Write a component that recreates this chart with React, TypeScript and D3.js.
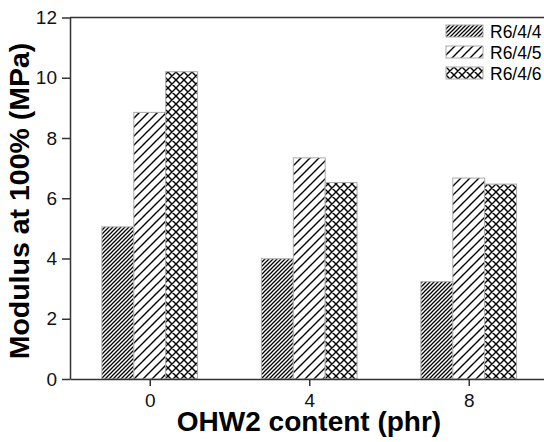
import React, { useEffect, useRef } from 'react';
import * as d3 from 'd3';

const groups = [0, 4, 8];
const seriesNames = ['R6/4/4', 'R6/4/5', 'R6/4/6'];
const r644 = [5.05, 3.99, 3.23];
const r645 = [8.85, 7.34, 6.67];
const r646 = [10.2, 6.52, 6.47];
const yTicks = [0, 2, 4, 6, 8, 10, 12];
const xTicks = [0, 4, 8];

const W = 544;
const H = 442;

const App = () => {
  const svgRef = useRef<SVGSVGElement>(null);

  useEffect(() => {
    const svg = d3.select(svgRef.current);
    svg.selectAll('*').remove();

    const left = 70, top = 17.5, bottom = 379;
    const x = d3.scaleLinear().domain([-2, 10]).range([left, left + 12 * 39.875]);
    const y = d3.scaleLinear().domain([0, 12]).range([bottom, top]);
    const barW = x(0.8) - x(0);
    const font = 'Arial, "Liberation Sans", sans-serif';
    const axisColor = '#333';

    // hatch patterns
    const defs = svg.append('defs');
    const dense = defs.append('pattern').attr('id', 'p1')
      .attr('patternUnits', 'userSpaceOnUse').attr('width', 4).attr('height', 4);
    dense.append('rect').attr('width', 4).attr('height', 4).attr('fill', 'white');
    dense.append('path').attr('d', 'M-1,1 L1,-1 M0,4 L4,0 M3,5 L5,3')
      .attr('stroke', 'black').attr('stroke-width', 1.3);

    const sparse = defs.append('pattern').attr('id', 'p2')
      .attr('patternUnits', 'userSpaceOnUse').attr('width', 9).attr('height', 9);
    sparse.append('rect').attr('width', 9).attr('height', 9).attr('fill', 'white');
    sparse.append('path').attr('d', 'M-1,1 L1,-1 M0,9 L9,0 M8,10 L10,8')
      .attr('stroke', 'black').attr('stroke-width', 1.4);

    const cross = defs.append('pattern').attr('id', 'p3')
      .attr('patternUnits', 'userSpaceOnUse').attr('width', 8).attr('height', 8);
    cross.append('rect').attr('width', 8).attr('height', 8).attr('fill', 'white');
    cross.append('path').attr('d', 'M-1,1 L1,-1 M0,8 L8,0 M7,9 L9,7 M-1,7 L1,9 M0,0 L8,8 M7,-1 L9,1')
      .attr('stroke', 'black').attr('stroke-width', 1.4);

    const fills = ['url(#p1)', 'url(#p2)', 'url(#p3)'];
    const series = [r644, r645, r646];

    // bars
    series.forEach((vals, si) => {
      svg.append('g').selectAll('rect')
        .data(vals)
        .enter()
        .append('rect')
        .attr('x', (d, i) => x(groups[i]) + (si - 1.5) * barW)
        .attr('y', d => y(d))
        .attr('width', barW)
        .attr('height', d => y(0) - y(d))
        .attr('fill', fills[si])
        .attr('stroke', '#aaa')
        .attr('stroke-width', 1);
    });

    // axes
    const yAxis = svg.append('g')
      .attr('transform', `translate(${left},0)`)
      .call(d3.axisLeft(y).tickValues(yTicks).tickSize(8).tickPadding(5).tickSizeOuter(0));
    yAxis.select('.domain').attr('stroke', axisColor).attr('stroke-width', 1.5);
    yAxis.selectAll('line').attr('stroke', axisColor).attr('stroke-width', 1.5);
    yAxis.selectAll('text').attr('font-family', font).attr('font-size', 19).attr('fill', '#111');

    const xAxis = svg.append('g')
      .attr('transform', `translate(0,${bottom})`)
      .call(d3.axisBottom(x).tickValues(xTicks).tickSize(7).tickPadding(8).tickSizeOuter(0));
    xAxis.select('.domain').attr('stroke', axisColor).attr('stroke-width', 1.5);
    xAxis.selectAll('line').attr('stroke', axisColor).attr('stroke-width', 1.5);
    xAxis.selectAll('text').attr('font-family', font).attr('font-size', 19).attr('fill', '#111');

    // top frame
    svg.append('line')
      .attr('x1', left).attr('x2', x(10))
      .attr('y1', top).attr('y2', top)
      .attr('stroke', axisColor).attr('stroke-width', 1.5);

    // axis titles
    svg.append('text')
      .attr('x', 309)
      .attr('y', 431)
      .attr('text-anchor', 'middle')
      .attr('font-family', font)
      .attr('font-weight', 'bold')
      .attr('font-size', 28)
      .text('OHW2 content (phr)');

    svg.append('text')
      .attr('transform', 'translate(29,201) rotate(-90)')
      .attr('text-anchor', 'middle')
      .attr('font-family', font)
      .attr('font-weight', 'bold')
      .attr('font-size', 28.5)
      .text('Modulus at 100% (MPa)');

    // legend
    const legend = svg.append('g').attr('transform', 'translate(446,25)');
    seriesNames.forEach((name, i) => {
      const row = legend.append('g').attr('transform', `translate(0,${i * 21})`);
      row.append('rect')
        .attr('width', 37).attr('height', 12)
        .attr('fill', fills[i])
        .attr('stroke', '#aaa');
      row.append('text')
        .attr('x', 44).attr('y', 12.5)
        .attr('font-family', font)
        .attr('font-size', 17.5)
        .text(name);
    });
  }, []);

  return (
    <svg ref={svgRef} width={W} height={H}
      style={{ position: 'absolute', left: 0, top: 0, background: 'white' }} />
  );
};

export default App;
